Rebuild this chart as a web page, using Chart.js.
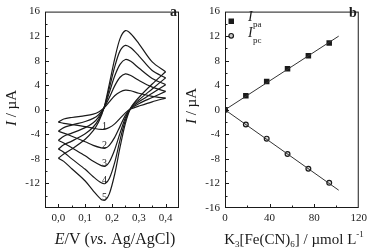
<!DOCTYPE html>
<html>
<head>
<meta charset="utf-8">
<script src="https://cdn.jsdelivr.net/npm/chart.js@4/dist/chart.umd.min.js"></script>
<style>
  html, body { margin: 0; padding: 0; background: #fff; }
  #wrap { position: relative; width: 371px; height: 252px; }
  .box { position: absolute; top: 0; height: 252px; }
</style>
</head>
<body>
<div id="wrap">
  <div class="box" style="left:0;width:185px"><canvas id="cvChart"></canvas></div>
  <div class="box" style="left:185px;width:186px"><canvas id="calChart"></canvas></div>
</div>
<script>
// panel a: cyclic voltammograms, potential grids (V)
const E_FWD = [0, 0.02, 0.05, 0.1, 0.13, 0.15, 0.17, 0.19, 0.21, 0.23, 0.25, 0.27, 0.3, 0.35, 0.4];
const E_REV = [0.4, 0.35, 0.3, 0.27, 0.25, 0.23, 0.21, 0.19, 0.175, 0.16, 0.13, 0.1, 0.05, 0.02, 0];

// currents (µA) on forward / reverse sweep, curves 1..5
const FWD_1 = [-2.0, -1.5, -1.25, -0.95, -0.7, -0.35, 0.3, 1.3, 2.3, 2.9, 3.2, 3.1, 2.7, 2.2, 1.9];
const FWD_2 = [-3.5, -2.9, -2.5, -1.9, -1.4, -0.8, 0.3, 2.0, 3.9, 5.3, 5.85, 5.6, 4.8, 3.7, 3.0];
const FWD_3 = [-5.0, -4.3, -3.8, -2.9, -2.1, -1.2, 0.3, 2.8, 5.5, 7.4, 8.2, 7.9, 6.8, 5.1, 4.1];
const FWD_4 = [-6.4, -5.7, -5.1, -3.9, -2.8, -1.6, 0.3, 3.5, 7.0, 9.6, 10.5, 10.1, 8.8, 6.4, 5.2];
const FWD_5 = [-7.9, -7.2, -6.4, -4.8, -3.4, -2.0, 0.3, 4.2, 8.3, 11.6, 12.9, 12.4, 10.8, 7.8, 6.2];

const REV_1 = [1.9, 1.3, 0.6, 0.15, -0.5, -1.4, -2.3, -2.9, -3.15, -3.2, -3.0, -2.75, -2.4, -2.2, -2.0];
const REV_2 = [3.0, 2.0, 1.0, 0.2, -0.9, -2.7, -4.5, -5.8, -6.25, -6.2, -5.8, -5.2, -4.3, -3.8, -3.5];
const REV_3 = [4.1, 2.7, 1.3, 0.25, -1.3, -3.8, -6.5, -8.5, -9.2, -9.1, -8.4, -7.5, -6.2, -5.4, -5.0];
const REV_4 = [5.2, 3.4, 1.6, 0.3, -1.7, -4.9, -8.6, -11.2, -12.0, -11.9, -10.9, -9.7, -8.0, -6.9, -6.4];
const REV_5 = [6.2, 4.2, 2.0, 0.3, -2.2, -6.1, -10.5, -13.7, -14.7, -14.6, -13.2, -11.6, -9.6, -8.4, -7.9];

const CURVE_NAMES = ['1', '2', '3', '4', '5'];

// panel b: peak currents vs concentration
const CONC = [0, 18.7, 37.4, 56.1, 74.8, 93.5];
const I_PA = [0, 2.3, 4.6, 6.7, 8.8, 10.9];
const I_PC = [0, -2.4, -4.7, -7.2, -9.6, -11.9];
const FIT_X = [0, 102];
const FIT_PA = [0, 12.0];
const FIT_PC = [0, -13.1];

// tick labels
const X_TICKS_A = [0, 0.1, 0.2, 0.3, 0.4];
const Y_TICKS_A = [16, 12, 8, 4, 0, -4, -8, -12];
const X_TICKS_B = [0, 40, 80, 120];
const Y_TICKS_B = [16, 12, 8, 4, 0, -4, -8, -12, -16];

const SERIF = '"Liberation Serif", "Times New Roman", serif';
const INK = '#1a1a1a';
const tickFont = { family: SERIF, size: 11 };

function pts(xs, ys) { return xs.map((x, i) => ({ x, y: ys[i] })); }

function drawRich(ctx, parts, cx, cy, size, rot) {
  ctx.save();
  ctx.translate(cx, cy);
  if (rot) ctx.rotate(-Math.PI / 2);
  ctx.textBaseline = 'middle';
  ctx.textAlign = 'left';
  ctx.fillStyle = INK;
  const fontOf = p => (p.it ? 'italic ' : '') + (p.sub || p.sup ? Math.round(size * 0.62) : size) + 'px ' + SERIF;
  let w = 0;
  parts.forEach(p => { ctx.font = fontOf(p); p.w = ctx.measureText(p.t).width; w += p.w; });
  let x = -w / 2;
  parts.forEach(p => {
    ctx.font = fontOf(p);
    const dy = p.sub ? size * 0.3 : p.sup ? -size * 0.35 : 0;
    ctx.fillText(p.t, x, dy);
    x += p.w;
  });
  ctx.restore();
}

// box frame + inward major/minor ticks
function frame(xMinor, xMajor, yMinor, yMajor) {
  return {
    id: 'frame',
    afterDatasetsDraw(chart) {
      const { ctx, chartArea: a, scales: { x, y } } = chart;
      ctx.save();
      ctx.strokeStyle = INK;
      ctx.lineWidth = 1;
      ctx.strokeRect(a.left + 0.5, a.top + 0.5, a.right - a.left - 1, a.bottom - a.top - 1);
      ctx.beginPath();
      const isMajor = (v, m) => Math.abs(v / m - Math.round(v / m)) < 1e-6;
      let n = Math.round((x.max - x.min) / xMinor);
      for (let i = 1; i < n; i++) {
        const v = x.min + i * xMinor;
        const px = Math.round(x.getPixelForValue(v)) + 0.5;
        const len = isMajor(v, xMajor) ? 4 : 2.5;
        ctx.moveTo(px, a.bottom);
        ctx.lineTo(px, a.bottom - len);
      }
      n = Math.round((y.max - y.min) / yMinor);
      for (let i = 1; i < n; i++) {
        const v = y.min + i * yMinor;
        const py = Math.round(y.getPixelForValue(v)) + 0.5;
        const len = isMajor(v, yMajor) ? 4 : 2.5;
        ctx.moveTo(a.left, py);
        ctx.lineTo(a.left + len, py);
      }
      ctx.stroke();
      ctx.restore();
    }
  };
}

function scaleX(min, max, ticksArr, fmt) {
  return {
    type: 'linear', min, max,
    grid: { display: false, drawTicks: false },
    border: { display: false },
    ticks: { font: tickFont, color: INK, padding: 4, autoSkip: false, maxRotation: 0, callback: fmt },
    afterBuildTicks: s => { s.ticks = ticksArr.map(v => ({ value: v })); },
    afterFit: s => { s.height = 44; }
  };
}
function scaleY(ticksArr, width) {
  return {
    type: 'linear', min: -16, max: 16,
    grid: { display: false, drawTicks: false },
    border: { display: false },
    ticks: { font: tickFont, color: INK, padding: 5, autoSkip: false },
    afterBuildTicks: s => { s.ticks = ticksArr.map(v => ({ value: v })); },
    afterFit: s => { s.width = width; }
  };
}

const FWD = [FWD_1, FWD_2, FWD_3, FWD_4, FWD_5];
const REV = [REV_1, REV_2, REV_3, REV_4, REV_5];
const cvSets = [];
FWD.forEach((f, i) => {
  const line = { borderColor: INK, borderWidth: 1.2, pointRadius: 0, showLine: true, tension: 0.3, fill: false };
  cvSets.push({ ...line, label: 'fwd ' + CURVE_NAMES[i], data: pts(E_FWD, f) });
  cvSets.push({ ...line, label: 'rev ' + CURVE_NAMES[i], data: pts(E_REV, REV[i]) });
});

const cvText = {
  id: 'cvText',
  afterDraw(chart) {
    const { ctx, scales: { x, y } } = chart;
    ctx.save();
    ctx.fillStyle = INK;
    ctx.textAlign = 'center';
    ctx.textBaseline = 'middle';
    ctx.font = '10px ' + SERIF;
    REV.forEach((r, i) => {
      ctx.fillText(CURVE_NAMES[i], x.getPixelForValue(0.172), y.getPixelForValue(Math.min(...r)) - 3);
    });
    ctx.font = 'bold 14px ' + SERIF;
    ctx.fillText('a', 173.5, 12.5);
    ctx.restore();
    drawRich(ctx, [{ t: 'E', it: true }, { t: '/V (' }, { t: 'vs.', it: true }, { t: ' Ag/AgCl)' }], 115, 240, 16);
    drawRich(ctx, [{ t: 'I', it: true }, { t: ' / µA' }], 12, 108, 15, true);
  }
};

new Chart(document.getElementById('cvChart'), {
  type: 'scatter',
  data: { datasets: cvSets },
  options: {
    responsive: true, maintainAspectRatio: false, animation: false, devicePixelRatio: 1,
    layout: { padding: { top: 9, right: 6, left: 0, bottom: 0 } },
    plugins: { legend: { display: false }, tooltip: { enabled: false } },
    scales: {
      x: scaleX(-0.05, 0.45, X_TICKS_A, v => v.toFixed(1).replace('.', ',')),
      y: scaleY(Y_TICKS_A, 45)
    }
  },
  plugins: [frame(0.05, 0.1, 2, 4), cvText]
});

const calText = {
  id: 'calText',
  afterDraw(chart) {
    const { ctx } = chart;
    ctx.save();
    ctx.fillStyle = INK;
    ctx.strokeStyle = INK;
    // legend symbols
    ctx.fillRect(43.5, 18.5, 5.5, 5.5);
    ctx.beginPath();
    ctx.arc(46.2, 35.8, 2.3, 0, Math.PI * 2);
    ctx.fillStyle = '#c8c8c8';
    ctx.fill();
    ctx.lineWidth = 1.2;
    ctx.stroke();
    ctx.fillStyle = INK;
    ctx.textBaseline = 'middle';
    ctx.textAlign = 'left';
    ctx.font = 'italic 14px ' + SERIF;
    ctx.fillText('I', 63, 17);
    ctx.fillText('I', 63, 33);
    ctx.font = '9px ' + SERIF;
    ctx.fillText('pa', 68, 24.5);
    ctx.fillText('pc', 68, 41);
    ctx.font = 'bold 14px ' + SERIF;
    ctx.textAlign = 'center';
    ctx.fillText('b', 168, 13.5);
    ctx.restore();
    drawRich(ctx, [{ t: 'K' }, { t: '3', sub: true }, { t: '[Fe(CN)' }, { t: '6', sub: true }, { t: '] / µmol L' }, { t: '-1', sup: true }], 109, 240, 15);
    drawRich(ctx, [{ t: 'I', it: true }, { t: ' / µA' }], 7, 106, 15, true);
  }
};

new Chart(document.getElementById('calChart'), {
  type: 'scatter',
  data: {
    datasets: [
      { label: 'fit pa', data: pts(FIT_X, FIT_PA), showLine: true, pointRadius: 0, borderColor: '#333', borderWidth: 1, order: 0 },
      { label: 'fit pc', data: pts(FIT_X, FIT_PC), showLine: true, pointRadius: 0, borderColor: '#333', borderWidth: 1, order: 0 },
      { label: 'Ipa', data: pts(CONC, I_PA), pointStyle: 'rect', pointRadius: 3.9, backgroundColor: INK, borderColor: INK, borderWidth: 0, order: 1 },
      { label: 'Ipc', data: pts(CONC, I_PC), pointStyle: 'circle', pointRadius: 2.4, backgroundColor: 'rgba(190,190,190,0.6)', borderColor: INK, borderWidth: 1.2, order: 1 }
    ]
  },
  options: {
    responsive: true, maintainAspectRatio: false, animation: false, devicePixelRatio: 1,
    layout: { padding: { top: 9, right: 11, left: 0, bottom: 0 } },
    plugins: { legend: { display: false }, tooltip: { enabled: false } },
    scales: {
      x: scaleX(0, 120, X_TICKS_B, v => String(v)),
      y: scaleY(Y_TICKS_B, 40)
    }
  },
  plugins: [frame(20, 40, 2, 4), calText]
});
</script>
</body>
</html>
